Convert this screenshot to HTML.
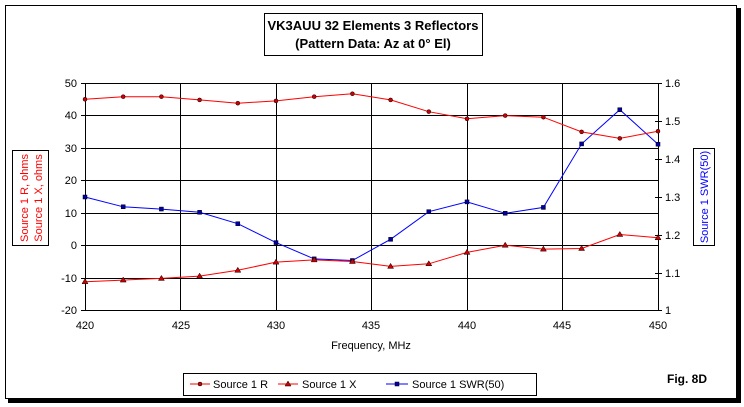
<!DOCTYPE html><html><head><style>body{margin:0;background:#fff}svg{display:block;font-family:"Liberation Sans",Arial,sans-serif}</style></head><body>
<svg width="744" height="407" xmlns="http://www.w3.org/2000/svg">
<rect x="0" y="0" width="744" height="407" fill="#fff"/>
<rect x="5.5" y="5.5" width="731" height="393" fill="#fff" stroke="#000"/>
<rect x="737" y="8" width="4" height="394" fill="#000"/>
<rect x="8" y="399" width="733" height="4" fill="#000"/>
<rect x="264.5" y="13.5" width="218" height="42" fill="#fff" stroke="#000"/>
<text x="373" y="30" font-size="13" font-weight="bold" text-anchor="middle">VK3AUU 32 Elements 3 Reflectors</text>
<text x="373" y="48" font-size="13" font-weight="bold" text-anchor="middle">(Pattern Data: Az at 0° El)</text>
<g stroke="#000" stroke-width="1">
<line x1="85" y1="83.5" x2="658" y2="83.5"/><line x1="85" y1="115.5" x2="658" y2="115.5"/><line x1="85" y1="148.5" x2="658" y2="148.5"/><line x1="85" y1="180.5" x2="658" y2="180.5"/><line x1="85" y1="213.5" x2="658" y2="213.5"/><line x1="85" y1="245.5" x2="658" y2="245.5"/><line x1="85" y1="278.5" x2="658" y2="278.5"/><line x1="85" y1="310.5" x2="658" y2="310.5"/>
<line x1="180.5" y1="83" x2="180.5" y2="311"/><line x1="276.5" y1="83" x2="276.5" y2="311"/><line x1="371.5" y1="83" x2="371.5" y2="311"/><line x1="467.5" y1="83" x2="467.5" y2="311"/><line x1="562.5" y1="83" x2="562.5" y2="311"/>
<line x1="85.5" y1="83" x2="85.5" y2="311"/><line x1="658.5" y1="83" x2="658.5" y2="311"/>
<line x1="81" y1="83.5" x2="85" y2="83.5"/><line x1="81" y1="115.5" x2="85" y2="115.5"/><line x1="81" y1="148.5" x2="85" y2="148.5"/><line x1="81" y1="180.5" x2="85" y2="180.5"/><line x1="81" y1="213.5" x2="85" y2="213.5"/><line x1="81" y1="245.5" x2="85" y2="245.5"/><line x1="81" y1="278.5" x2="85" y2="278.5"/><line x1="81" y1="310.5" x2="85" y2="310.5"/>
<line x1="655" y1="83.5" x2="662" y2="83.5"/><line x1="655" y1="121.5" x2="662" y2="121.5"/><line x1="655" y1="159.5" x2="662" y2="159.5"/><line x1="655" y1="197.5" x2="662" y2="197.5"/><line x1="655" y1="235.5" x2="662" y2="235.5"/><line x1="655" y1="273.5" x2="662" y2="273.5"/><line x1="655" y1="310.5" x2="662" y2="310.5"/>
</g>
<g font-size="11" text-anchor="end">
<text x="77" y="87">50</text><text x="77" y="119">40</text><text x="77" y="152">30</text><text x="77" y="184">20</text><text x="77" y="217">10</text><text x="77" y="249">0</text><text x="77" y="282">-10</text><text x="77" y="314">-20</text>
</g>
<g font-size="11">
<text x="665" y="87">1.6</text><text x="665" y="125">1.5</text><text x="665" y="163">1.4</text><text x="665" y="201">1.3</text><text x="665" y="239">1.2</text><text x="665" y="277">1.1</text><text x="665" y="314">1</text>
</g>
<g font-size="11" text-anchor="middle">
<text x="85" y="329">420</text><text x="181" y="329">425</text><text x="276" y="329">430</text><text x="371" y="329">435</text><text x="467" y="329">440</text><text x="562" y="329">445</text><text x="658" y="329">450</text>
<text x="371" y="349">Frequency, MHz</text>
</g>
<rect x="12.5" y="150.5" width="36" height="95" fill="#fff" stroke="#000"/>
<text transform="translate(28,198) rotate(-90)" font-size="11" fill="#f00" text-anchor="middle">Source 1 R,  ohms</text>
<text transform="translate(42,198) rotate(-90)" font-size="11" fill="#f00" text-anchor="middle">Source 1 X,  ohms</text>
<rect x="693.5" y="148.5" width="21" height="97" fill="#fff" stroke="#000"/>
<text transform="translate(708,197) rotate(-90)" font-size="11" fill="#00f" text-anchor="middle">Source 1 SWR(50)</text>
<g id="plot"></g>
<rect x="183.5" y="373.5" width="353" height="22" fill="#fff" stroke="#000"/>
<line x1="190" y1="384" x2="210" y2="384" stroke="#f00"/><circle cx="200" cy="384" r="2" fill="#c00" stroke="#000" stroke-width="0.5"/>
<text x="213" y="388" font-size="11">Source 1 R</text>
<line x1="278" y1="384" x2="298" y2="384" stroke="#f00"/><path d="M288,381 L291,386 L285,386Z" fill="#c00" stroke="#000" stroke-width="0.5"/>
<text x="302" y="388" font-size="11">Source 1 X</text>
<line x1="386" y1="384" x2="408" y2="384" stroke="#00f"/><rect x="395" y="382" width="4" height="4" fill="#00a" stroke="#000" stroke-width="0.5"/>
<text x="412" y="388" font-size="11">Source 1 SWR(50)</text>
<text x="667" y="383" font-size="12" font-weight="bold">Fig. 8D</text>
</svg>
<script>
var R=[45,45.8,45.8,44.8,43.8,44.5,45.8,46.7,44.8,41.2,39,40,39.5,35,33,35.2];
var X=[-11,-10.5,-10,-9.3,-7.5,-5,-4.3,-4.8,-6.3,-5.5,-2,0.2,-1,-0.8,3.5,2.5];
var S=[15,12,11.3,10.3,6.8,1,-4,-4.5,2,10.5,13.5,10,11.8,31.3,41.8,31.2];
function px(i){return 85+i*573/15}function py(v){return 83+(50-v)*228/70}
var g=document.getElementById('plot'),ns='http://www.w3.org/2000/svg',h='';
function line(a,c){return '<polyline fill="none" stroke="'+c+'" stroke-width="1" points="'+a.map(function(v,i){return px(i).toFixed(1)+','+py(v).toFixed(1)}).join(' ')+'"/>';}
h+=line(S,'#00f')+line(R,'#f00')+line(X,'#f00');
S.forEach(function(v,i){h+='<rect x="'+(px(i)-2)+'" y="'+(py(v)-2)+'" width="4" height="4" fill="#00a" stroke="#000" stroke-width="0.5"/>';});
R.forEach(function(v,i){h+='<circle cx="'+px(i)+'" cy="'+py(v)+'" r="2" fill="#c00" stroke="#000" stroke-width="0.5"/>';});
X.forEach(function(v,i){var x=px(i),y=py(v);h+='<path d="M'+x+','+(y-3)+' L'+(x+3)+','+(y+2)+' L'+(x-3)+','+(y+2)+'Z" fill="#c00" stroke="#000" stroke-width="0.5"/>';});
g.innerHTML=h;
</script>
</body></html>
